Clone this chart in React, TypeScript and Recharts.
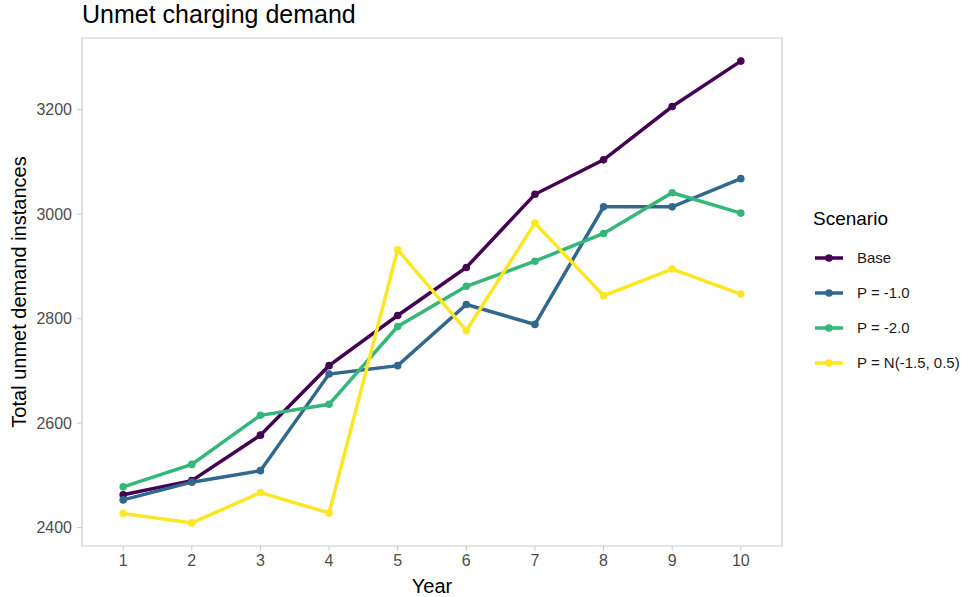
import { LineChart, Line, XAxis, YAxis, ReferenceArea } from 'recharts'

const years = [1, 2, 3, 4, 5, 6, 7, 8, 9, 10]
const base = [2463, 2490, 2577, 2710, 2806, 2898, 3038, 3104, 3206, 3293]
const pMinus1 = [2453, 2487, 2509, 2694, 2710, 2827, 2789, 3014, 3014, 3068]
const pMinus2 = [2478, 2521, 2615, 2636, 2785, 2862, 2910, 2963, 3041, 3002]
const pNormal = [2427, 2409, 2467, 2428, 2932, 2777, 2983, 2844, 2895, 2847]

const yTicks = [2400, 2600, 2800, 3000, 3200]

const seriesList = [
  { key: 'base', name: 'Base', color: '#440154', values: base },
  { key: 'p1', name: 'P = -1.0', color: '#31688E', values: pMinus1 },
  { key: 'p2', name: 'P = -2.0', color: '#35B779', values: pMinus2 },
  { key: 'pn', name: 'P = N(-1.5, 0.5)', color: '#FDE725', values: pNormal },
]

const data = years.map((year, i) => {
  const row: { [k: string]: number } = { year }
  seriesList.forEach((s) => {
    row[s.key] = s.values[i]
  })
  return row
})

const FONT = '"Liberation Sans", Arial, sans-serif'
const Y_MIN = 2364.8
const Y_MAX = 3337.2

// legend drawn by hand so it does not eat into the plot area
function ScenarioLegend() {
  return (
    <div style={{ position: 'absolute', left: 813, top: 208, fontFamily: FONT }}>
      <div style={{ fontSize: 19, color: '#000', height: 32 }}>Scenario</div>
      {seriesList.map((s) => (
        <div key={s.key} style={{ display: 'flex', alignItems: 'center', height: 35 }}>
          <svg width={32} height={12} style={{ marginRight: 12 }}>
            <line x1={2} y1={6} x2={30} y2={6} stroke={s.color} strokeWidth={3.5} />
            <circle cx={16} cy={6} r={3.8} fill={s.color} />
          </svg>
          <span style={{ fontSize: 15, color: '#1a1a1a' }}>{s.name}</span>
        </div>
      ))}
    </div>
  )
}

export default function App() {
  return (
    <div style={{ position: 'absolute', left: 0, top: 0, width: 972, height: 597, background: '#fff' }}>
      <div
        style={{
          position: 'absolute',
          left: 82,
          top: 0,
          fontFamily: FONT,
          fontSize: 25,
          color: '#000',
        }}
      >
        Unmet charging demand
      </div>
      <LineChart
        width={972}
        height={597}
        data={data}
        margin={{ top: 38, right: 190, left: 0, bottom: 0 }}
      >
        <ReferenceArea
          x1={0.4}
          x2={10.6}
          y1={Y_MIN}
          y2={Y_MAX}
          fill="none"
          stroke="#cccccc"
          strokeWidth={1.2}
          fillOpacity={0}
        />
        <XAxis
          dataKey="year"
          type="number"
          domain={[0.4, 10.6]}
          ticks={years}
          height={51}
          axisLine={false}
          tickSize={5}
          tickMargin={4}
          tickLine={{ stroke: '#cccccc' }}
          tick={{ fill: '#4d4d4d', fontSize: 16, fontFamily: FONT }}
          label={{
            value: 'Year',
            position: 'insideBottom',
            offset: 4,
            fill: '#000',
            fontSize: 20,
            fontFamily: FONT,
          }}
        />
        <YAxis
          type="number"
          domain={[Y_MIN, Y_MAX]}
          ticks={yTicks}
          width={82}
          axisLine={false}
          tickSize={5}
          tickMargin={5}
          tickLine={{ stroke: '#cccccc' }}
          tick={{ fill: '#4d4d4d', fontSize: 16, fontFamily: FONT }}
          label={{
            value: 'Total unmet demand instances',
            angle: -90,
            position: 'insideLeft',
            offset: 19,
            style: { textAnchor: 'middle' },
            fill: '#000',
            fontSize: 20,
            fontFamily: FONT,
          }}
        />
        {seriesList.map((s) => (
          <Line
            key={s.key}
            type="linear"
            dataKey={s.key}
            name={s.name}
            stroke={s.color}
            strokeWidth={3.5}
            dot={{ r: 3.8, fill: s.color, stroke: s.color, strokeWidth: 0 }}
            activeDot={false}
            isAnimationActive={false}
          />
        ))}
      </LineChart>
      <ScenarioLegend />
    </div>
  )
}
